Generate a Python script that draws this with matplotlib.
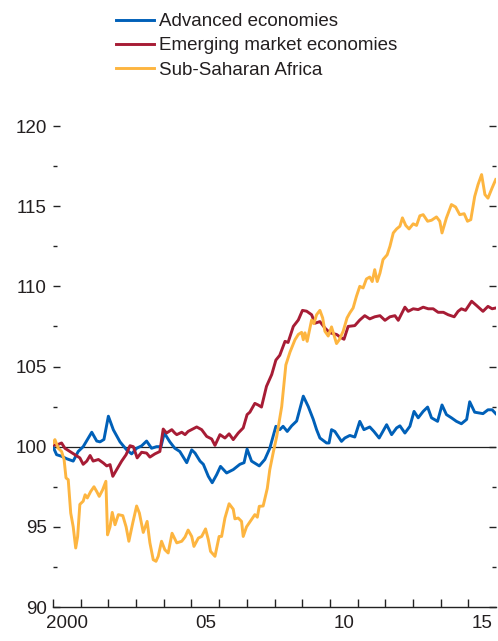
import matplotlib
matplotlib.use("Agg")
import matplotlib.pyplot as plt
from matplotlib.ticker import FixedLocator, NullFormatter, FixedFormatter

plt.rcParams['font.family'] = ['Liberation Sans', 'DejaVu Sans']

# --- data: years since 2000, index values ---
adv_t = [0, 0.13, 0.31, 0.49, 0.73, 0.91, 1.09, 1.40, 1.58, 1.70, 1.84, 2.00, 2.18, 2.42, 2.66,
         2.84, 3.02, 3.20, 3.38, 3.56, 3.74, 3.90, 4.02, 4.22, 4.40, 4.58, 4.83, 5.01, 5.13, 5.31,
         5.43, 5.61, 5.75, 5.91, 6.05, 6.27, 6.51, 6.75, 6.90, 7.01, 7.17, 7.45, 7.65, 7.83, 8.05,
         8.19, 8.31, 8.46, 8.62, 8.80, 9.04, 9.22, 9.40, 9.52, 9.64, 9.88, 9.97, 10.06, 10.18, 10.42,
         10.54, 10.72, 10.90, 11.08, 11.23, 11.44, 11.59, 11.78, 12.05, 12.23, 12.41, 12.53, 12.71,
         12.89, 13.04, 13.19, 13.37, 13.53, 13.67, 13.89, 14.05, 14.21, 14.39, 14.57, 14.75, 14.94,
         15.05, 15.23, 15.53, 15.71, 15.86, 15.99]
adv_v = [100.0, 99.5, 99.4, 99.25, 99.1, 99.7, 100.0, 100.9, 100.35, 100.3, 100.45, 101.9, 101.05,
         100.3, 99.8, 99.55, 99.9, 100.05, 100.35, 99.9, 100.0, 100.0, 100.85, 100.3, 99.9, 99.7,
         99.0, 99.8, 99.6, 99.1, 98.9, 98.15, 97.75, 98.25, 98.77, 98.36, 98.57, 98.9, 99.0, 99.85,
         99.1, 98.8, 99.2, 99.9, 101.27, 101.06, 101.27, 100.95, 101.3, 101.6, 103.15, 102.5, 101.7,
         101.06, 100.54, 100.23, 100.23, 101.06, 100.95, 100.33, 100.54, 100.7, 100.6, 101.58,
         101.06, 101.23, 100.95, 100.54, 101.37, 100.75, 101.17, 101.3, 100.85, 101.27, 102.2, 101.8,
         102.2, 102.47, 101.8, 101.58, 102.6, 102.0, 101.8, 101.58, 101.43, 101.7, 102.8, 102.15,
         102.06, 102.3, 102.3, 102.06]

em_t = [0, 0.13, 0.31, 0.43, 0.61, 0.79, 0.97, 1.09, 1.22, 1.34, 1.45, 1.64, 1.82, 1.94, 2.06, 2.16,
        2.30, 2.48, 2.64, 2.78, 2.90, 3.04, 3.20, 3.38, 3.50, 3.68, 3.86, 3.98, 4.10, 4.29, 4.40,
        4.47, 4.65, 4.77, 4.88, 5.19, 5.37, 5.55, 5.73, 5.85, 6.03, 6.21, 6.36, 6.51, 6.69, 6.87,
        7.01, 7.11, 7.29, 7.41, 7.53, 7.71, 7.90, 8.05, 8.19, 8.38, 8.49, 8.68, 8.86, 9.01, 9.16,
        9.34, 9.46, 9.64, 9.82, 10.00, 10.24, 10.42, 10.51, 10.66, 10.90, 11.08, 11.26, 11.44,
        11.62, 11.81, 11.99, 12.17, 12.35, 12.47, 12.71, 12.83, 13.01, 13.19, 13.37, 13.55, 13.73,
        13.91, 14.10, 14.27, 14.49, 14.63, 14.75, 14.90, 15.12, 15.30, 15.53, 15.71, 15.86, 15.99]
em_v = [100.1, 100.1, 100.23, 99.9, 99.7, 99.5, 99.3, 98.9, 99.1, 99.45, 99.1, 99.2, 98.98, 98.8,
        98.88, 98.15, 98.57, 99.1, 99.5, 100.06, 100.0, 99.3, 99.65, 99.6, 99.35, 99.55, 99.7,
        101.1, 100.85, 101.06, 100.85, 100.75, 100.9, 100.75, 100.95, 101.23, 101.06, 100.64,
        100.48, 100.08, 100.75, 100.54, 100.8, 100.44, 100.85, 101.17, 102.0, 102.15, 102.7, 102.6,
        102.47, 103.76, 104.5, 105.4, 105.7, 106.57, 106.5, 107.5, 107.9, 108.5, 108.45, 108.23,
        107.7, 107.8, 107.4, 107.1, 107.0, 106.78, 106.7, 107.5, 107.55, 107.9, 108.17, 107.97,
        108.1, 108.17, 107.88, 108.1, 108.17, 107.88, 108.7, 108.44, 108.6, 108.55, 108.7, 108.6,
        108.6, 108.38, 108.38, 108.23, 108.1, 108.44, 108.6, 108.5, 109.07, 108.8, 108.44, 108.75,
        108.6, 108.65]

ssa_t = [0, 0.07, 0.19, 0.31, 0.40, 0.47, 0.55, 0.64, 0.73, 0.82, 0.89, 0.97, 1.09, 1.16, 1.24,
         1.36, 1.48, 1.58, 1.67, 1.79, 1.91, 1.97, 2.06, 2.14, 2.24, 2.36, 2.52, 2.64, 2.74, 2.88,
         3.02, 3.12, 3.26, 3.40, 3.50, 3.62, 3.72, 3.80, 3.92, 4.04, 4.16, 4.30, 4.47, 4.65, 4.77,
         4.88, 5.01, 5.09, 5.25, 5.37, 5.51, 5.61, 5.69, 5.85, 6.00, 6.09, 6.21, 6.36, 6.51, 6.57,
         6.69, 6.81, 6.87, 6.99, 7.17, 7.29, 7.38, 7.45, 7.59, 7.74, 7.83, 7.95, 8.08, 8.26, 8.41,
         8.56, 8.74, 8.86, 8.98, 9.04, 9.10, 9.18, 9.34, 9.42, 9.52, 9.64, 9.74, 9.82, 9.94, 10.06,
         10.14, 10.24, 10.34, 10.48, 10.62, 10.72, 10.84, 10.96, 11.08, 11.20, 11.32, 11.44, 11.53,
         11.62, 11.71, 11.81, 11.92, 12.07, 12.17, 12.29, 12.41, 12.53, 12.62, 12.74, 12.86, 13.01,
         13.13, 13.25, 13.37, 13.53, 13.67, 13.85, 13.97, 14.05, 14.21, 14.39, 14.54, 14.69, 14.85,
         14.97, 15.09, 15.23, 15.35, 15.48, 15.60, 15.71, 15.86, 15.99]
ssa_v = [100.23, 100.44, 99.9, 99.7, 99.2, 98.05, 97.94, 95.86, 95.0, 93.68, 94.4, 96.4, 96.6, 97.0,
         96.8, 97.2, 97.5, 97.2, 96.9, 97.3, 97.84, 94.5, 95.0, 95.9, 95.13, 95.76, 95.7, 95.0, 94.1,
         95.24, 96.3, 95.86, 94.65, 95.34, 94.0, 92.95, 92.85, 93.16, 94.1, 93.57, 93.37, 94.6, 94.0,
         94.1, 94.37, 94.8, 94.4, 93.78, 94.3, 94.4, 94.87, 94.2, 93.47, 93.16, 94.4, 94.4, 95.55,
         96.44, 96.1, 95.5, 95.55, 95.34, 94.4, 95.0, 95.45, 95.76, 95.6, 96.28, 96.3, 97.4, 98.57,
         99.6, 100.64, 102.5, 105.1, 105.9, 106.67, 107.0, 107.13, 106.67, 107.1, 106.57, 107.9,
         107.67, 108.23, 108.5, 108.03, 107.2, 106.9, 107.47, 107.0, 106.43, 106.67, 107.2, 108.03,
         108.34, 108.65, 109.38, 110.0, 109.9, 110.46, 110.58, 110.3, 111.04, 110.3, 110.83, 111.67,
         111.97, 112.5, 113.33, 113.58, 113.75, 114.27, 113.8, 113.58, 113.9, 113.8, 114.4, 114.47,
         114.06, 114.12, 114.33, 114.06, 113.33, 114.27, 115.1, 114.95, 114.47, 114.53, 114.06,
         114.16, 115.6, 116.34, 116.97, 115.72, 115.5, 116.14, 116.66]

labels = ['Advanced economies', 'Emerging market economies', 'Sub-Saharan Africa']
colors = ['#0060B8', '#A71C35', '#FDB540']
year_labels = ['2000', '05', '10', '15']

W, H = 498, 641
fig = plt.figure(figsize=(W / 100, H / 100), dpi=100)
ax = fig.add_axes([53 / W, 1 - 607 / H, (496 - 53) / W, (607 - 126) / H])

ax.axhline(100, color='#222222', lw=0.9, zorder=1)
for t, v, c, lab in zip([adv_t, em_t, ssa_t], [adv_v, em_v, ssa_v], colors, labels):
    ax.plot([2000 + x for x in t], v, color=c, lw=2.1, label=lab, solid_joinstyle='round')

ax.set_xlim(2000, 2016)
ax.set_ylim(90, 120)

for s in ['top', 'left', 'right']:
    ax.spines[s].set_visible(False)
ax.spines['bottom'].set_linewidth(1.0)
ax.spines['bottom'].set_color('#222222')

txt = '#231F20'
fs = 13.5
# x: ticks at year boundaries, labels at mid-year
ax.xaxis.set_major_locator(FixedLocator(list(range(2000, 2016))))
ax.xaxis.set_major_formatter(NullFormatter())
ax.xaxis.set_minor_locator(FixedLocator([2000.5, 2005.5, 2010.5, 2015.5]))
ax.xaxis.set_minor_formatter(FixedFormatter(year_labels))
ax.tick_params(axis='x', which='major', direction='in', length=5.5, width=1.0, color='#222222')
ax.tick_params(axis='x', which='minor', length=0, pad=5.5, labelsize=fs, labelcolor=txt)

ax.yaxis.set_major_locator(FixedLocator([90, 95, 100, 105, 110, 115, 120]))
ax.yaxis.set_minor_locator(FixedLocator([92.5, 97.5, 102.5, 107.5, 112.5, 117.5]))
ax.tick_params(axis='y', which='major', direction='in', length=5.2, width=1.0, color='#222222',
               left=True, right=True, labelsize=fs, labelcolor=txt, pad=4.5)
ax.tick_params(axis='y', which='minor', direction='in', length=2.7, width=1.0, color='#222222',
               left=True, right=True)

fig.legend(loc='upper left', bbox_to_anchor=(116 / W, 1 - 13 / H), frameon=False,
           fontsize=fs, handlelength=2.0, handletextpad=0.3, labelspacing=0.38,
           borderaxespad=0, borderpad=0, labelcolor=txt)

fig.savefig('out.png', dpi=100)
